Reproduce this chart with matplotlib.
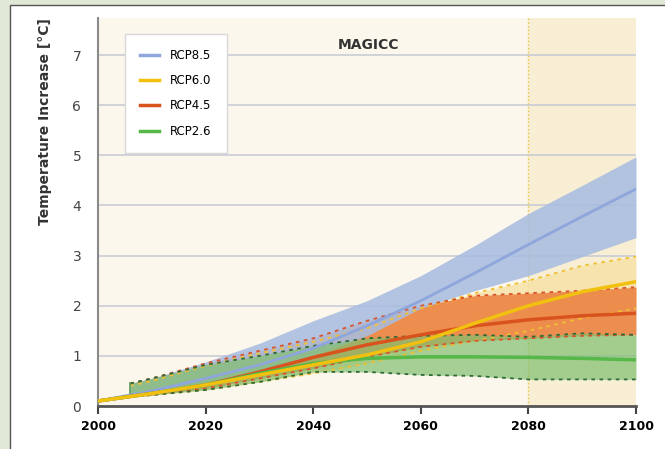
import matplotlib.pyplot as plt
from matplotlib.patches import Rectangle

# Data
years = [2000, 2010, 2020, 2030, 2040, 2050, 2060, 2070, 2080, 2090, 2100]
band_years = [2006, 2010, 2020, 2030, 2040, 2050, 2060, 2070, 2080, 2090, 2100]

rcp85_mean = [0.1, 0.3, 0.55, 0.82, 1.15, 1.6, 2.1, 2.65, 3.22, 3.78, 4.33]
rcp85_hi = [0.45, 0.55, 0.88, 1.25, 1.7, 2.1, 2.6, 3.2, 3.84, 4.4, 4.97]
rcp85_lo = [0.2, 0.25, 0.45, 0.7, 1.0, 1.4, 1.95, 2.3, 2.6, 2.98, 3.36]

rcp60_mean = [0.1, 0.25, 0.42, 0.62, 0.82, 1.02, 1.28, 1.65, 2.0, 2.28, 2.48]
rcp60_hi = [0.4, 0.5, 0.8, 1.05, 1.28, 1.55, 1.95, 2.25, 2.5, 2.8, 2.98]
rcp60_lo = [0.18, 0.22, 0.32, 0.48, 0.65, 0.85, 1.1, 1.3, 1.5, 1.75, 1.95]

rcp45_mean = [0.1, 0.25, 0.42, 0.68, 0.97, 1.22, 1.42, 1.6, 1.72, 1.8, 1.85]
rcp45_hi = [0.45, 0.55, 0.85, 1.1, 1.35, 1.7, 2.0, 2.2, 2.25, 2.3, 2.37]
rcp45_lo = [0.18, 0.22, 0.35, 0.55, 0.75, 0.98, 1.18, 1.3, 1.35, 1.4, 1.42]

rcp26_mean = [0.1, 0.25, 0.42, 0.65, 0.85, 0.95, 0.98, 0.98, 0.97, 0.95, 0.92]
rcp26_hi = [0.45, 0.55, 0.82, 1.0, 1.2, 1.35, 1.4, 1.42, 1.38, 1.45, 1.42]
rcp26_lo = [0.19, 0.22, 0.32, 0.48, 0.68, 0.68, 0.62, 0.6, 0.53, 0.53, 0.53]

labels = ['RCP8.5', 'RCP6.0', 'RCP4.5', 'RCP2.6']
x_ticks = [2000, 2020, 2040, 2060, 2080, 2100]
y_ticks = [0, 1, 2, 3, 4, 5, 6, 7]

narrow = ['Liberation Sans Narrow', 'DejaVu Sans']

fig = plt.figure(figsize=(6.65, 4.49), dpi=100)
fig.patch.set_facecolor('#e1e8d6')
# white inner panel with dark border
fig.patches.append(Rectangle((10 / 665, -0.01), 1, 1.01 - 5 / 449, transform=fig.transFigure,
                             facecolor='white', edgecolor='#555555', lw=1, zorder=-10))

ax = fig.add_axes([98 / 665, 1 - 406 / 449, 538 / 665, 388 / 449])
ax.set_facecolor('#fcf7ec')
ax.axvspan(2080, 2100, color='#f7eed3', zorder=0)
ax.axvline(2080, color='#e8c440', lw=1, ls=':', zorder=1)

for y in y_ticks[1:]:
    ax.axhline(y, color='#c9ccd6', lw=1.2, zorder=1)

# bands
ax.fill_between(band_years, rcp60_lo, rcp60_hi, color='#f7e2a8', alpha=0.85, lw=0, zorder=2)
ax.fill_between(band_years, rcp45_lo, rcp45_hi, color='#ec8443', alpha=0.9, lw=0, zorder=3)
ax.fill_between(band_years, rcp85_lo, rcp85_hi, color='#a8bde0', alpha=0.88, lw=0, zorder=4)
ax.fill_between(band_years, rcp26_lo, rcp26_hi, color='#80bf70', alpha=0.7, lw=0, zorder=5)

# dashed band edges
dash = (0, (2, 2.5))
for lo, hi, c in [(rcp60_lo, rcp60_hi, '#efc030'),
                  (rcp45_lo, rcp45_hi, '#d9532b'),
                  (rcp26_lo, rcp26_hi, '#2f6a38')]:
    ax.plot(band_years, hi, color=c, lw=1.3, ls=dash, zorder=6)
    ax.plot(band_years, lo, color=c, lw=1.3, ls=dash, zorder=6)
ax.plot([2006, 2006], [rcp26_lo[0], rcp26_hi[0]], color='#5b9a5a', lw=1.2, zorder=6)

# mean lines
ax.plot(years, rcp85_mean, color='#8ea6dc', lw=2, label=labels[0], zorder=7)
ax.plot(years, rcp60_mean, color='#f2c10f', lw=2.5, label=labels[1], zorder=8)
ax.plot(years, rcp45_mean, color='#d9531e', lw=2.5, label=labels[2], zorder=7)
ax.plot(years, rcp26_mean, color='#55b848', lw=2.5, label=labels[3], zorder=7)

ax.set_xlim(2000, 2100)
ax.set_ylim(0, 7.74)
ax.set_xticks(x_ticks)
ax.set_yticks(y_ticks)
ax.set_xticklabels([str(t) for t in x_ticks], fontweight='bold', fontsize=9, family=narrow)
ax.tick_params(axis='y', length=0, pad=12, labelsize=10, labelcolor='#444444')
ax.tick_params(axis='x', length=6, width=1.5, direction='out', color='#444444', pad=4)

for s in ['top', 'right']:
    ax.spines[s].set_visible(False)
ax.spines['left'].set_color('#8a8a8a')
ax.spines['left'].set_linewidth(1.5)
ax.spines['bottom'].set_color('#555555')
ax.spines['bottom'].set_linewidth(2)

ax.text(0.502, 0.93, 'MAGICC', transform=ax.transAxes, ha='center', va='center',
        fontsize=10, fontweight='bold', color='#333333', family=narrow)

leg = ax.legend(loc='upper left', bbox_to_anchor=(0.05, 0.959), borderaxespad=0,
                labelspacing=1.05, borderpad=1.25, handlelength=1.6, handletextpad=1.0,
                fancybox=False, shadow=False, framealpha=1, edgecolor='#d8d8d8',
                prop={'family': narrow, 'size': 8.5})
leg.set_zorder(10)
for line in leg.get_lines():
    line.set_linewidth(2.5)

fig.text(45 / 665, 1 - 122 / 449, 'Temperature Increase [°C]', rotation=90,
         ha='center', va='center', fontsize=10, fontweight='bold', color='#333333')

fig.savefig('out.png', dpi=100, facecolor=fig.get_facecolor())
